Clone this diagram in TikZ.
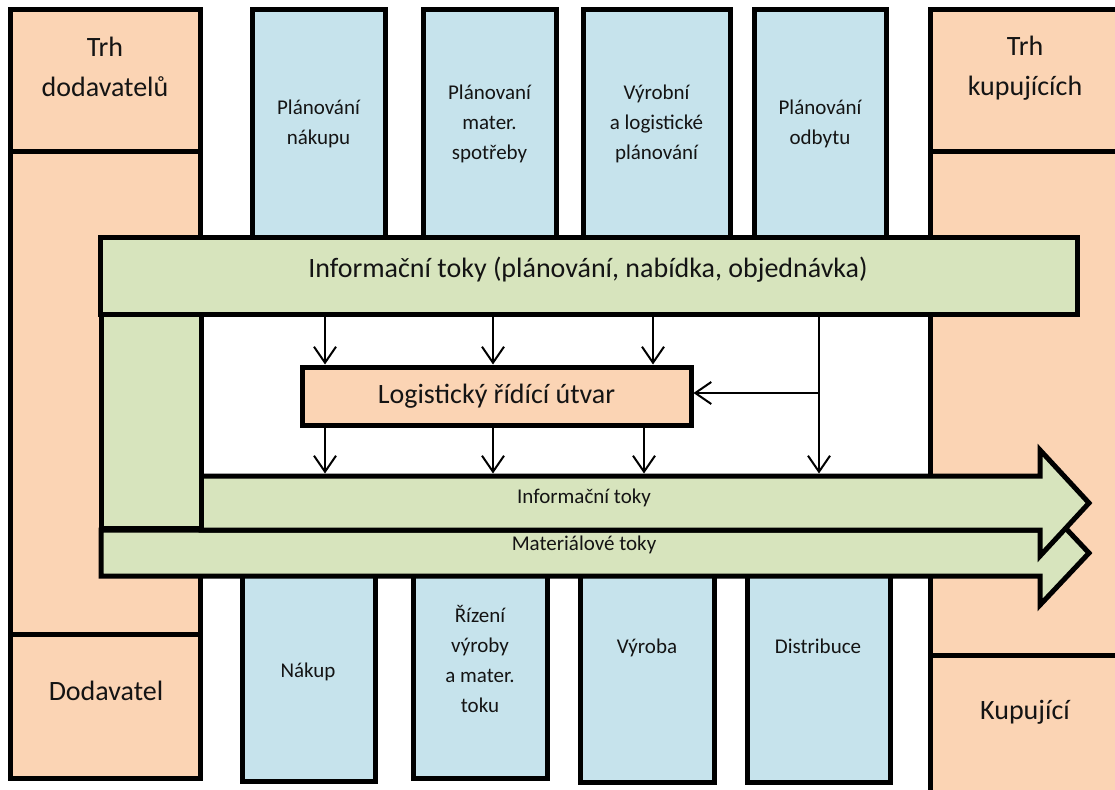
\documentclass[tikz,border=0pt]{standalone}
\usepackage{fontspec}
\setmainfont{Carlito}
\usetikzlibrary{arrows.meta}

\definecolor{peach}{HTML}{FBD4B4}
\definecolor{paleblue}{HTML}{C6E3EC}
\definecolor{palegreen}{HTML}{D7E4BD}
\definecolor{inkcol}{HTML}{141414}

\newcommand{\bigtxt}{\fontsize{28}{40}\selectfont}
\newcommand{\smalltxt}{\fontsize{21}{30}\selectfont}

\begin{document}
\begin{tikzpicture}[x=1pt, y=-1pt,
  box/.style={draw, line width=5pt, rectangle, inner sep=0pt, outer sep=0pt},
  market/.style={box, fill=peach},
  dept/.style={box, fill=paleblue, font=\smalltxt, text=inkcol, align=center},
  bandshape/.style={draw, line width=5pt, fill=palegreen, line join=miter},
  biglabel/.style={inner sep=0pt, font=\bigtxt, text=inkcol, align=center},
  smalllabel/.style={inner sep=0pt, font=\smalltxt, text=inkcol, align=center},
  infoarrow/.style={line width=2pt, -{Straight Barb[length=16pt,width=22pt]}, shorten >=2.5pt},
]
\useasboundingbox (0,0) rectangle (1115,789);
\clip (0,0) rectangle (1115,789);
\fill[white] (0,0) rectangle (1115,789);

% supplier side column
\node[market, minimum width=190pt, minimum height=141pt] (supmarket) at (105,80.5) {};
\node[market, minimum width=190pt, minimum height=483pt] (supmid) at (105,392.5) {};
\node[market, minimum width=190pt, minimum height=144pt] (supplier) at (105,706) {};

% customer side column (runs off the right and bottom edges)
\node[market, minimum width=210pt, minimum height=141pt] (buymarket) at (1035,80.5) {};
\node[market, minimum width=210pt, minimum height=504pt] (buymid) at (1035,403) {};
\node[market, minimum width=210pt, minimum height=155pt] (buyer) at (1035,732.5) {};

% planning departments
\node[dept, minimum width=133pt, minimum height=227pt] (plan1) at (318.5,123.5) {Plánování\\nákupu};
\node[dept, minimum width=133pt, minimum height=227pt] (plan2) at (489.5,123.5) {Plánovaní\\mater.\\spotřeby};
\node[dept, minimum width=147pt, minimum height=227pt] (plan3) at (656.5,123.5) {Výrobní\\a logistické\\plánování};
\node[dept, minimum width=132pt, minimum height=227pt] (plan4) at (820,123.5) {Plánování\\odbytu};

% executing departments
\node[dept, minimum width=133pt, minimum height=221pt] (exec1) at (308.5,670.5) {};
\node[dept, minimum width=134pt, minimum height=218pt] (exec2) at (480,669) {};
\node[dept, minimum width=134pt, minimum height=222pt] (exec3) at (647,671) {};
\node[dept, minimum width=143pt, minimum height=222pt] (exec4) at (818.5,671) {};

% material flow band
\draw[bandshape] (101,530) -- (1040,530) -- (1040,501) -- (1089,553)
  -- (1040,605) -- (1040,576) -- (101,576) -- cycle;
% information flow band
\draw[bandshape] (201,476) -- (1040,476) -- (1040,450) -- (1089,503)
  -- (1040,556) -- (1040,530) -- (201,530) -- cycle;
\coordinate (infotop) at (201,476);
% vertical link of the information band
\draw[bandshape] (101,314) rectangle (201,528);
% planning information band
\node[box, fill=palegreen, minimum width=977pt, minimum height=77pt] (infobar) at (588.5,275.5) {};

% logistics control unit
\node[box, fill=peach, minimum width=389pt, minimum height=58pt, font=\bigtxt, text=inkcol]
  (lbox) at (496.5,396) {Logistický řídící útvar};

% texts
\node[biglabel] (tsup) at (105,66.5) {Trh\\dodavatelů};
\node[biglabel] (tsupplier) at (106,691) {Dodavatel};
\node[biglabel] (tbuy) at (1025,68.5) {Trh\\kupujících};
\node[biglabel] (tbuyer) at (1025,712.5) {Kupující};
\node[biglabel] (tinfobar) at (588,269.5) {Informační toky (plánování, nabídka, objednávka)};
\node[smalllabel] (tinfo) at (584,497.5) {Informační toky};
\node[smalllabel] (tmat) at (584,545) {Materiálové toky};
\node[smalllabel] (texec1) at (308,671.5) {Nákup};
\node[smalllabel] (texec2) at (480,659) {Řízení\\výroby\\a mater.\\toku};
\node[smalllabel] (texec3) at (647,647.5) {Výroba};
\node[smalllabel] (texec4) at (818,646) {Distribuce};

% information connectors
\coordinate (k1) at (325,0);
\coordinate (k2) at (493,0);
\coordinate (k3) at (653,0);
\coordinate (k3b) at (644,0);
\coordinate (k4) at (819,393);

\draw[infoarrow] (infobar.south -| k1) -- (lbox.north -| k1);
\draw[infoarrow] (infobar.south -| k2) -- (lbox.north -| k2);
\draw[infoarrow] (infobar.south -| k3) -- (lbox.north -| k3);
\draw[infoarrow] (lbox.south -| k1) -- (k1 |- infotop);
\draw[infoarrow] (lbox.south -| k2) -- (k2 |- infotop);
\draw[infoarrow] (lbox.south -| k3b) -- (k3b |- infotop);
\draw[infoarrow] (infobar.south -| k4) -- (k4 |- infotop);
\draw[infoarrow] (k4) -- (k4 -| lbox.east);
\end{tikzpicture}
\end{document}
